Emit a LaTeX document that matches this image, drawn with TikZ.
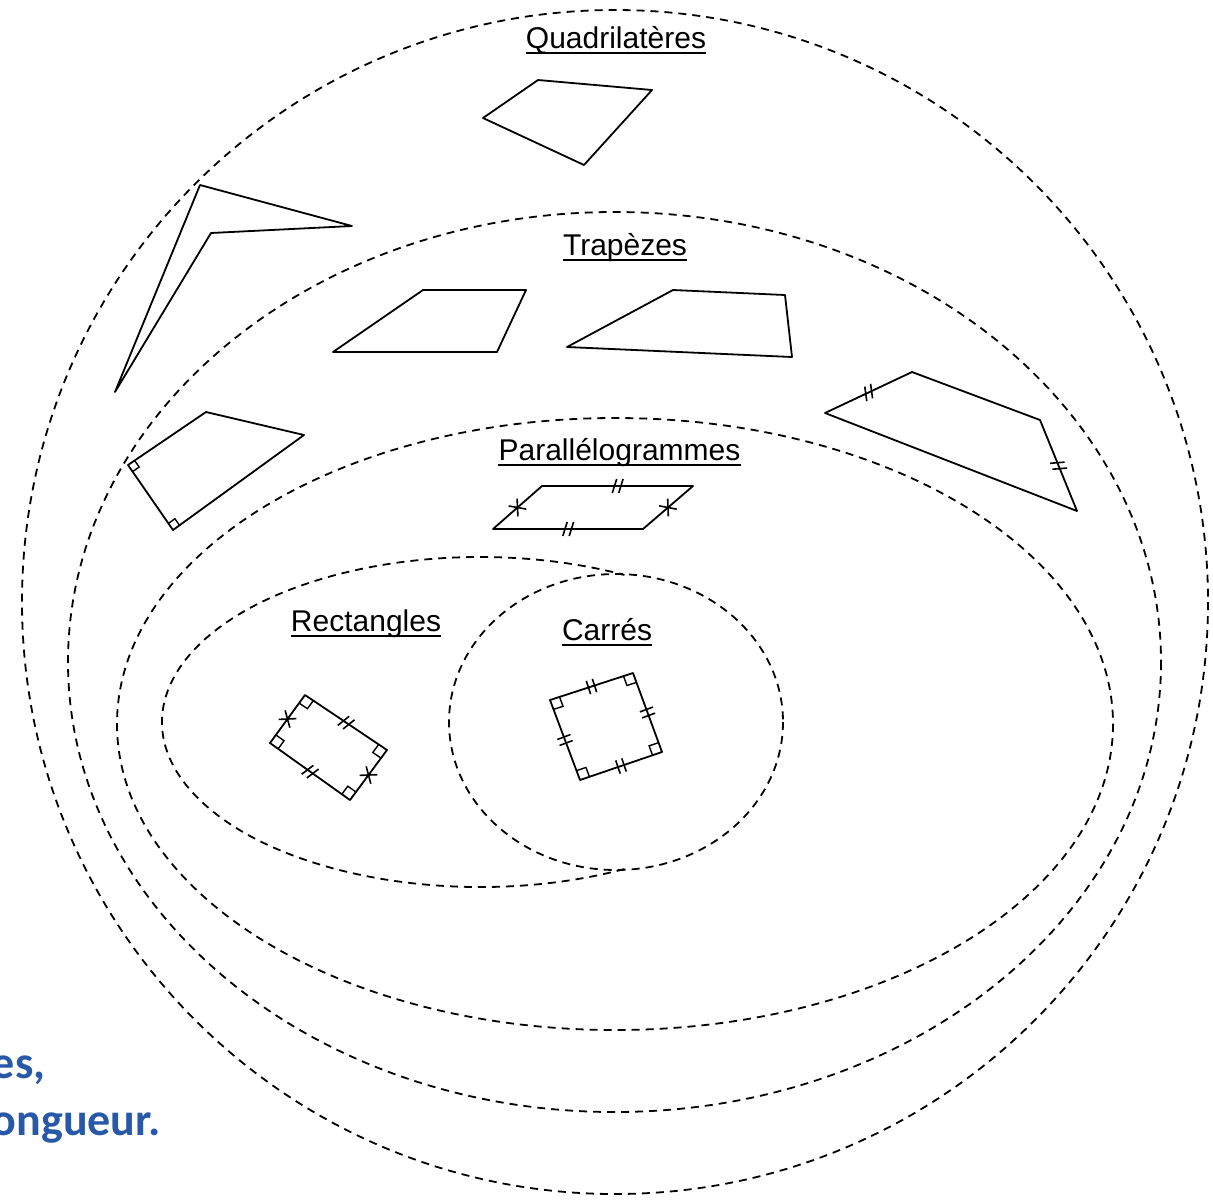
\documentclass[tikz,border=0pt]{standalone}
\usepackage{fontspec}
\setmainfont{Liberation Sans}
\newfontfamily\blufont{Carlito}
\usetikzlibrary{calc,decorations.markings}
\definecolor{txtblue}{RGB}{40,88,168}
\newcommand\RAmark[4]{%
  \path ($(#1)!#4!(#2)$) coordinate (ra1) ($(#1)!#4!(#3)$) coordinate (ra2);
  \draw[ramk] (ra1) -- ($(ra1)+(ra2)-(#1)$) -- (ra2);}
\begin{document}
\begin{tikzpicture}[x=0.5pt,y=-0.5pt,
  setline/.style={line width=0.9pt, dash pattern=on 4pt off 3pt},
  fig/.style={line width=0.9pt, line join=round},
  tickmk/.style={line width=0.8pt},
  ramk/.style={line width=0.7pt},
  lbl/.style={inner sep=0pt, anchor=base, font=\fontsize{15}{18}\selectfont},
  uline/.style={line width=0.8pt},
  bluetxt/.style={inner sep=0pt, anchor=base west, text=txtblue, font=\blufont\bfseries\fontsize{23}{28}\selectfont},
  dtk/.style={postaction={decorate,decoration={markings,mark=at position 0.5 with {\draw[tickmk] (-1.6pt,-3.5pt)--(-1.6pt,3.5pt) (1.6pt,-3.5pt)--(1.6pt,3.5pt);}}}},
  stk/.style={postaction={decorate,decoration={markings,mark=at position 0.5 with {\draw[tickmk] (-2.6pt,-3.5pt)--(-0.4pt,3.5pt) (0.6pt,-3.5pt)--(2.8pt,3.5pt);}}}},
  xtk/.style={postaction={decorate,decoration={markings,mark=at position 0.5 with {\draw[tickmk] (-2.8pt,-3.5pt)--(2.8pt,3.5pt) (-2.8pt,3.5pt)--(2.8pt,-3.5pt);}}}}
]
\useasboundingbox (0,0) rectangle (1213,1200);

% ---- set boundaries ----
\draw[setline] (615,602) ellipse [x radius=593, y radius=592];
\draw[setline] (614.5,662) ellipse [x radius=546.5, y radius=450];
\draw[setline] (615,724) ellipse [x radius=498, y radius=306];
\draw[setline] (616,722) ellipse [x radius=167, y radius=148];
\draw[setline] (624.4,869) arc[start angle=63, end angle=297, x radius=318, y radius=165];

% ---- labels ----
\node[lbl] (lq) at (616,48) {Quadrilatères};
\node[lbl] (lt) at (625,255) {Trapèzes};
\node[lbl] (lp) at (619.5,460) {Parallélogrammes};
\node[lbl] (lr) at (366,631) {Rectangles};
\node[lbl] (lc) at (607,640) {Carrés};
\foreach \n in {lq,lt,lp,lr,lc}
  \draw[uline] ([yshift=-2.5pt]\n.base west) -- ([yshift=-2.5pt]\n.base east);

% ---- quadrilaterals ----
\coordinate (q1) at (538,80); \coordinate (q2) at (652,90);
\coordinate (q3) at (584,165); \coordinate (q4) at (483,118);
\draw[fig] (q1) -- (q2) -- (q3) -- (q4) -- cycle;

\coordinate (d1) at (200,185); \coordinate (d2) at (352,226);
\coordinate (d3) at (211,233); \coordinate (d4) at (115,392);
\draw[fig] (d1) -- (d2) -- (d3) -- (d4) -- cycle;

\coordinate (k1) at (206,412); \coordinate (k2) at (304,435);
\coordinate (k3) at (173,530); \coordinate (k4) at (128,465);
\draw[fig] (k1) -- (k2) -- (k3) -- (k4) -- cycle;
\RAmark{k4}{k1}{k3}{4pt}
\RAmark{k3}{k4}{k2}{4pt}

% ---- trapezoids ----
\coordinate (a1) at (333,352); \coordinate (a2) at (423,290);
\coordinate (a3) at (526,290); \coordinate (a4) at (497,352);
\draw[fig] (a1) -- (a2) -- (a3) -- (a4) -- cycle;

\coordinate (b1) at (567,347); \coordinate (b2) at (673,290);
\coordinate (b3) at (785,295); \coordinate (b4) at (792,357);
\draw[fig] (b1) -- (b2) -- (b3) -- (b4) -- cycle;

\coordinate (c1) at (825,413); \coordinate (c2) at (912,372);
\coordinate (c3) at (1040,420); \coordinate (c4) at (1077,511);
\draw[fig] (c1) -- (c2) -- (c3) -- (c4) -- cycle;
\path[stk] (c1) -- (c2);
\path[stk] (c3) -- (c4);

% ---- parallelogram ----
\coordinate (p1) at (493,529); \coordinate (p2) at (542,486);
\coordinate (p3) at (693,486); \coordinate (p4) at (643,529);
\draw[fig] (p1) -- (p2) -- (p3) -- (p4) -- cycle;
\path[stk] (p2) -- (p3);
\path[stk] (p1) -- (p4);
\path[xtk] (p1) -- (p2);
\path[xtk] (p4) -- (p3);

% ---- rectangle ----
\coordinate (r1) at (270,743); \coordinate (r2) at (305,695);
\coordinate (r3) at (387,750); \coordinate (r4) at (350,800);
\draw[fig] (r1) -- (r2) -- (r3) -- (r4) -- cycle;
\RAmark{r1}{r2}{r4}{5pt}
\RAmark{r2}{r1}{r3}{5pt}
\RAmark{r3}{r2}{r4}{5pt}
\RAmark{r4}{r3}{r1}{5pt}
\path[xtk] (r1) -- (r2);
\path[xtk] (r4) -- (r3);
\path[stk] (r2) -- (r3);
\path[stk] (r1) -- (r4);

% ---- square ----
\coordinate (s1) at (550,700); \coordinate (s2) at (633,673);
\coordinate (s3) at (662,752); \coordinate (s4) at (580,780);
\draw[fig] (s1) -- (s2) -- (s3) -- (s4) -- cycle;
\RAmark{s1}{s2}{s4}{5pt}
\RAmark{s2}{s1}{s3}{5pt}
\RAmark{s3}{s2}{s4}{5pt}
\RAmark{s4}{s3}{s1}{5pt}
\path[dtk] (s1) -- (s2);
\path[dtk] (s2) -- (s3);
\path[dtk] (s3) -- (s4);
\path[dtk] (s4) -- (s1);

% ---- cut-off blue text (cropped at the left edge, as in the reference) ----
\node[bluetxt] (t1) at (-8.5,1078) {es,};
\node[bluetxt] (t2) at (-8.5,1135) {ongueur.};
\end{tikzpicture}
\end{document}
